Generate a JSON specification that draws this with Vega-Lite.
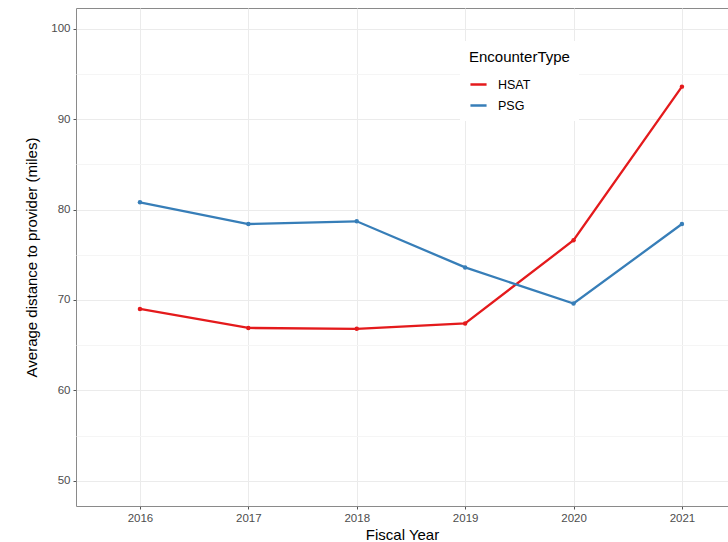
{
  "$schema": "https://vega.github.io/schema/vega-lite/v6.json",
  "width": 652,
  "height": 498,
  "autosize": {"type": "none"},
  "padding": {"left": 76, "top": 8, "right": 0, "bottom": 36},
  "background": "white",
  "config": {
    "font": "Liberation Sans",
    "view": {"stroke": "#8a8a8a", "strokeWidth": 1}
  },
  "data": {
    "values": [
      {"year": 2016, "type": "HSAT", "dist": 69.0},
      {"year": 2017, "type": "HSAT", "dist": 66.9},
      {"year": 2018, "type": "HSAT", "dist": 66.8},
      {"year": 2019, "type": "HSAT", "dist": 67.4},
      {"year": 2020, "type": "HSAT", "dist": 76.6},
      {"year": 2021, "type": "HSAT", "dist": 93.6},
      {"year": 2016, "type": "PSG", "dist": 80.8},
      {"year": 2017, "type": "PSG", "dist": 78.4},
      {"year": 2018, "type": "PSG", "dist": 78.7},
      {"year": 2019, "type": "PSG", "dist": 73.6},
      {"year": 2020, "type": "PSG", "dist": 69.6},
      {"year": 2021, "type": "PSG", "dist": 78.4}
    ]
  },
  "encoding": {
    "x": {
      "field": "year", "type": "quantitative",
      "scale": {"domain": [2015.41, 2021.425], "nice": false, "zero": false},
      "axis": {
        "values": [2016, 2017, 2018, 2019, 2020, 2021],
        "format": "d",
        "title": "Fiscal Year",
        "titleFontSize": 15, "titleFontWeight": "normal", "titleColor": "#000000", "titlePadding": 4,
        "labelFontSize": 11.5, "labelColor": "#4d4d4d", "labelPadding": 3,
        "tickColor": "#555555", "tickSize": 3,
        "domain": false,
        "grid": true, "gridColor": "#ebebeb", "gridWidth": 1
      }
    },
    "y": {
      "field": "dist", "type": "quantitative",
      "scale": {"domain": [47.2, 102.3], "nice": false, "zero": false},
      "axis": {
        "values": [50, 55, 60, 65, 70, 75, 80, 85, 90, 95, 100],
        "labelExpr": "datum.value % 10 === 0 ? datum.label : ''",
        "title": "Average distance to provider (miles)",
        "titleFontSize": 15, "titleFontWeight": "normal", "titleColor": "#000000", "titlePadding": 11,
        "labelFontSize": 11.5, "labelColor": "#4d4d4d", "labelPadding": 3,
        "tickColor": {"condition": {"test": "datum.value % 10 === 0", "value": "#555555"}, "value": "transparent"},
        "tickSize": 3,
        "domain": false,
        "grid": true,
        "gridColor": {"condition": {"test": "datum.value % 10 === 0", "value": "#ebebeb"}, "value": "#f5f5f5"},
        "gridWidth": 1
      }
    },
    "color": {
      "field": "type", "type": "nominal",
      "scale": {"domain": ["HSAT", "PSG"], "range": ["#e41a1c", "#377eb8"]},
      "legend": {
        "title": "EncounterType",
        "orient": "none",
        "legendX": 384,
        "legendY": 33,
        "fillColor": "white",
        "padding": 9,
        "titleFontSize": 15, "titleFontWeight": "normal", "titleColor": "#000000", "titlePadding": 10,
        "labelFontSize": 12.5, "labelColor": "#000000", "labelOffset": 10,
        "symbolType": "stroke", "symbolStrokeWidth": 2.5, "symbolSize": 260,
        "rowPadding": 5
      }
    }
  },
  "layer": [
    {"mark": {"type": "line", "strokeWidth": 2.3}},
    {"mark": {"type": "point", "filled": true, "size": 20, "opacity": 1}}
  ]
}
